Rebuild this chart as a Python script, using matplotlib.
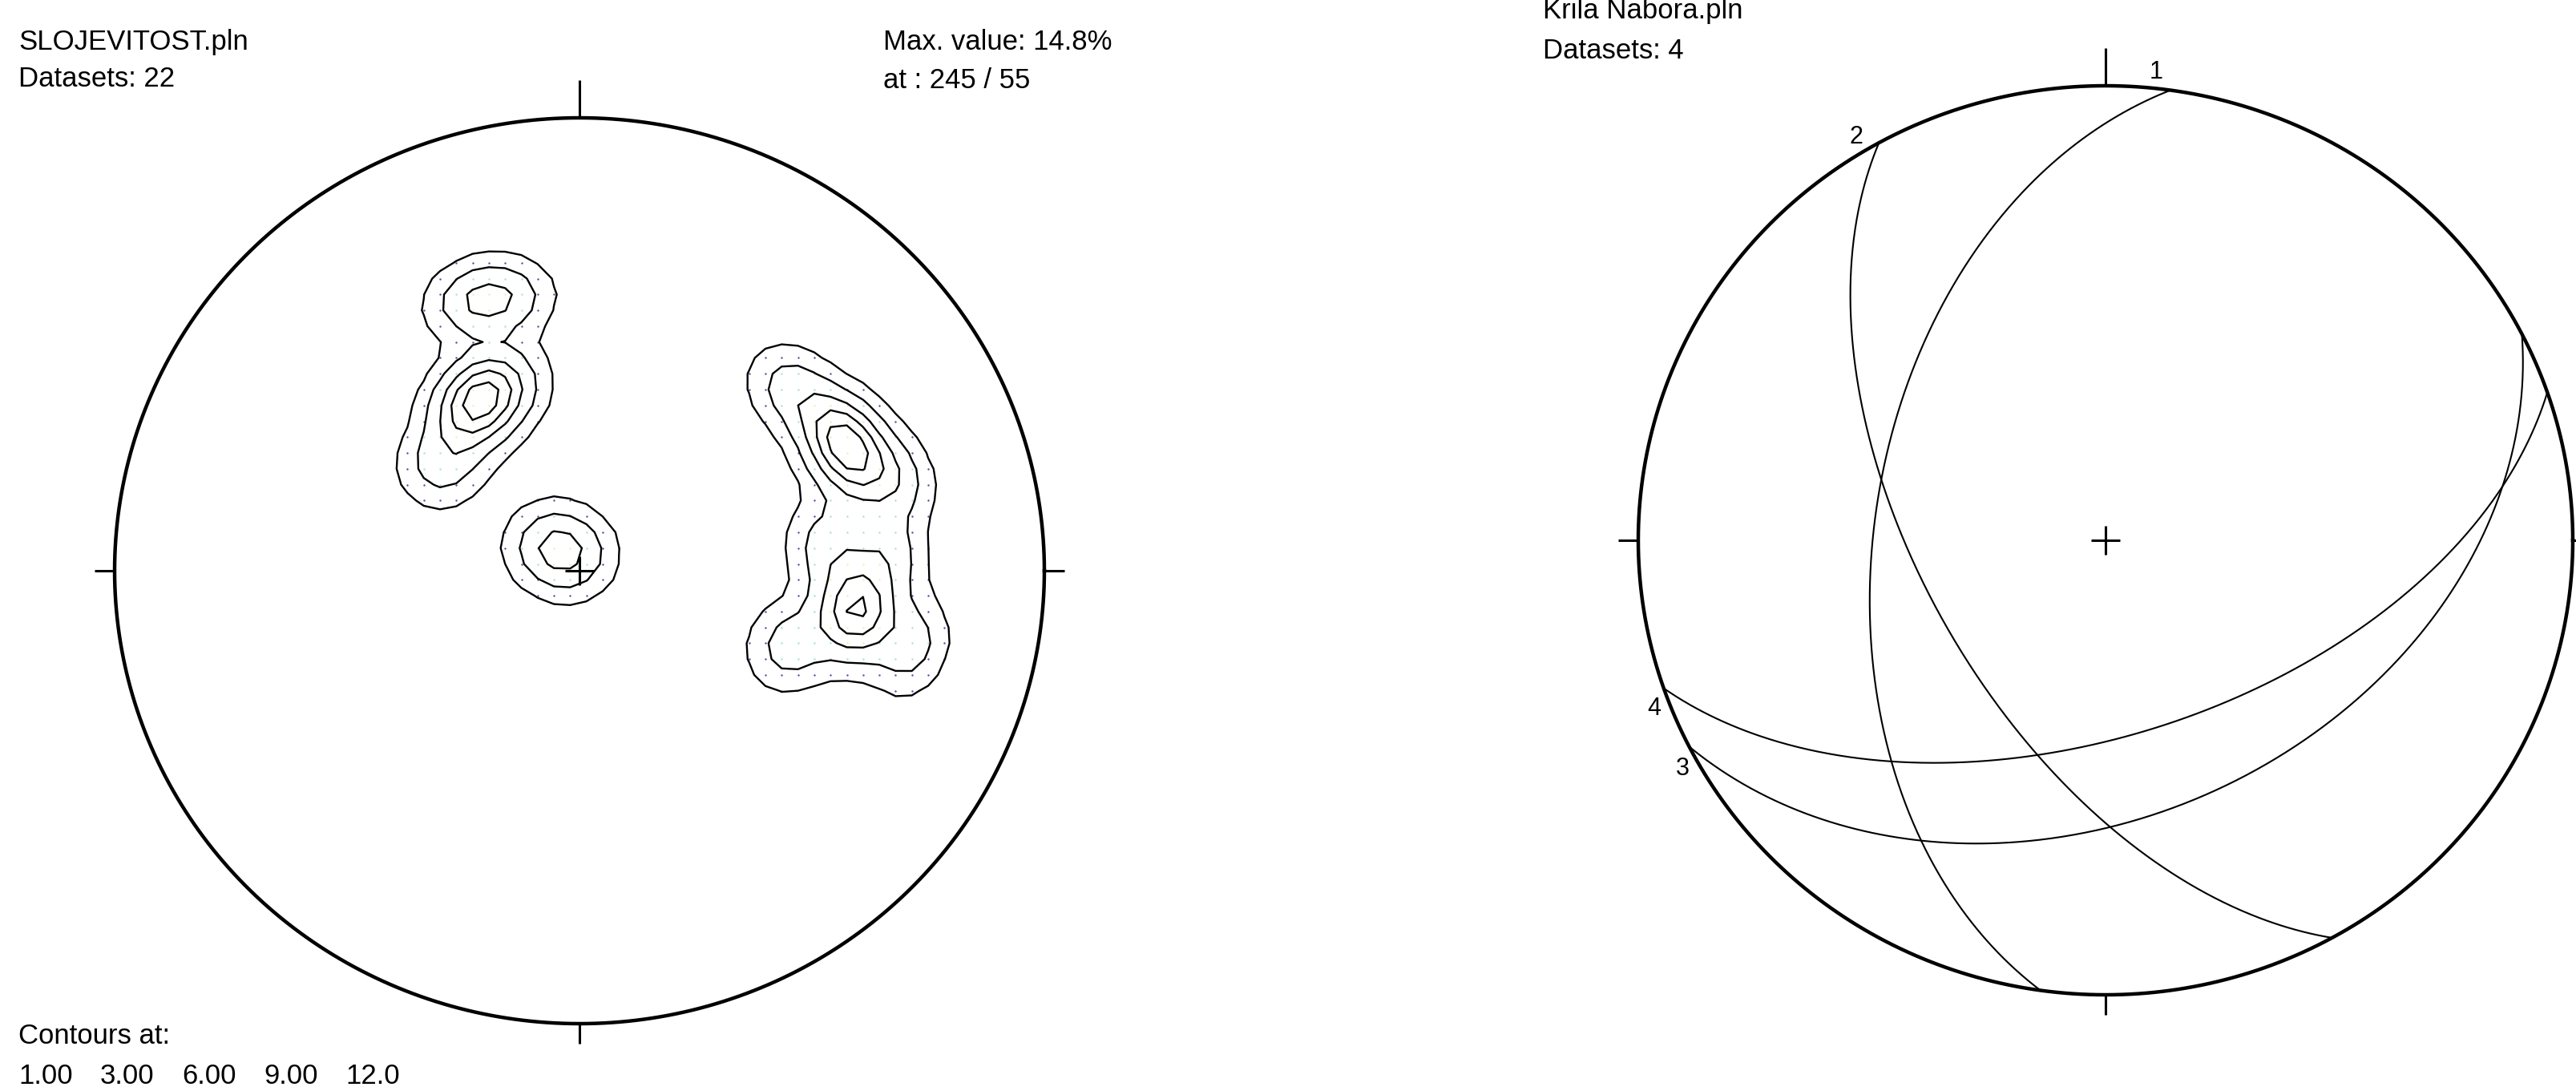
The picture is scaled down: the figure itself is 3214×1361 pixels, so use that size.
import numpy as np
import matplotlib
matplotlib.use("Agg")
import matplotlib.pyplot as plt

plt.rcParams['font.family'] = ['Liberation Sans', 'DejaVu Sans']

# SLOJEVITOST.pln : bedding planes, dip direction / dip
bed_dipdir = [159, 165, 158, 152, 149, 145, 129, 130, 157, 240, 243,
              245, 250, 229, 253, 264, 267, 276, 278, 281, 283, 290]
bed_dip = [54, 52, 37, 37, 35, 34, 31, 7, 3, 53, 55,
           52, 54, 51, 60, 45, 56, 49, 52, 50, 62, 40]
contour_levels = [1.0, 3.0, 6.0, 9.0, 12.0]
contour_labels = ['1.00', '3.00', '6.00', '9.00', '12.0']
max_value = '14.8%'
max_at = '245 / 55'

# Krila Nabora.pln : fold limbs
limb_ids = ['1', '2', '3', '4']
limb_dipdir = [278, 241, 153, 161]
limb_dip = [49, 58, 40, 55]

W, H = 3214, 1361
fig = plt.figure(figsize=(W / 100, H / 100), dpi=100)
fs = 25


def net_axes(cx, cy, rx, ry, pad=1.2):
    ax = fig.add_axes([(cx - pad * rx) / W, (H - cy - pad * ry) / H,
                       2 * pad * rx / W, 2 * pad * ry / H])
    ax.set_xlim(-pad, pad)
    ax.set_ylim(-pad, pad)
    ax.axis('off')
    return ax


def draw_primitive(ax, rx, ry):
    t = np.linspace(0, 2 * np.pi, 721)
    ax.plot(np.cos(t), np.sin(t), color='k', lw=3.2, clip_on=False)
    kw = dict(color='k', lw=2.2, clip_on=False, solid_capstyle='butt')
    ax.plot([0, 0], [1, 1 + 47 / ry], **kw)
    ax.plot([0, 0], [-1, -1 - 25 / ry], **kw)
    ax.plot([-1, -1 - 25 / rx], [0, 0], **kw)
    ax.plot([1, 1 + 25 / rx], [0, 0], **kw)
    ax.plot([-18 / rx, 18 / rx], [0, 0], **kw)
    ax.plot([0, 0], [-18 / ry, 18 / ry], **kw)


def lower_vec(trend, plunge):
    tr, pl = np.radians(trend), np.radians(plunge)
    return np.stack([np.cos(pl) * np.sin(tr), np.cos(pl) * np.cos(tr), -np.sin(pl)], axis=-1)


def equal_area(v):
    # Schmidt net, lower hemisphere
    v = np.where(v[..., 2:3] > 0, -v, v)
    s = 1.0 / np.sqrt(1.0 + np.abs(v[..., 2]))
    return v[..., 0] * s, v[..., 1] * s


# ---- left net: pole density contours ----
cx1, cy1, rx1, ry1 = 723, 712, 580, 565
ax1 = net_axes(cx1, cy1, rx1, ry1)

poles = lower_vec(np.array(bed_dipdir) + 180.0, 90.0 - np.array(bed_dip))
step = 0.035
g = np.arange(-1.0, 1.0 + step / 2, step)
GX, GY = np.meshgrid(g, g)
R2 = GX ** 2 + GY ** 2
inside = R2 <= 1.0
pl = np.degrees(np.arcsin(np.clip(1.0 - R2, -1, 1)))
tr = np.degrees(np.arctan2(GX, GY))
grid_v = lower_vec(tr, pl)
cosang = np.abs(grid_v @ poles.T)
kappa = 160.0
# percent of data per 1% of net area
dens = 100.0 / len(poles) * np.exp(kappa * (cosang - 1.0)).sum(axis=-1)
dens = np.where(inside, dens, np.nan)

ax1.contour(GX, GY, dens, levels=contour_levels, colors='k', linewidths=1.7)

# counting grid nodes, tinted by density band
band_cols = ['#23238f', '#8fd8d8', '#ecec9c']
bands = [(1, 3), (3, 6), (6, 100)]
for (lo, hi), c in zip(bands, band_cols):
    m = (dens >= lo) & (dens < hi)
    ax1.scatter(GX[m], GY[m], s=3, color=c, lw=0, alpha=0.8)

draw_primitive(ax1, rx1, ry1)

# ---- right net: great circles of fold limbs ----
cx2, cy2, rx2, ry2 = 2627, 674, 583, 567
ax2 = net_axes(cx2, cy2, rx2, ry2)
t = np.linspace(0, np.pi, 400)
for lid, dd, dp in zip(limb_ids, limb_dipdir, limb_dip):
    dd_r, dp_r = np.radians(dd), np.radians(dp)
    st = dd_r - np.pi / 2
    sv = np.array([np.sin(st), np.cos(st), 0.0])
    dv = np.array([np.sin(dd_r) * np.cos(dp_r), np.cos(dd_r) * np.cos(dp_r), -np.sin(dp_r)])
    v = np.cos(t)[:, None] * sv + np.sin(t)[:, None] * dv
    x, y = equal_area(v)
    ax2.plot(x, y, color='k', lw=1.5)
    az = np.radians(dd + 90 - 2)
    ax2.text(1.035 * np.sin(az), 1.035 * np.cos(az), lid, fontsize=22,
             ha='center', va='center')
draw_primitive(ax2, rx2, ry2)


def ftext(x, y, s):
    fig.text(x / W, 1 - y / H, s, fontsize=fs, ha='left', va='baseline')


ftext(23, 62, 'SLOJEVITOST.pln')
ftext(23, 108, 'Datasets: %d' % len(bed_dip))
ftext(1102, 62, 'Max. value: ' + max_value)
ftext(1102, 110, 'at : ' + max_at)
ftext(23, 1302, 'Contours at:')
for i, lab in enumerate(contour_labels):
    ftext(23 + 102 * i, 1352, lab)
ftext(1925, 23, 'Krila Nabora.pln')
ftext(1925, 73, 'Datasets: %d' % len(limb_ids))

fig.savefig('out.png', dpi=100)
